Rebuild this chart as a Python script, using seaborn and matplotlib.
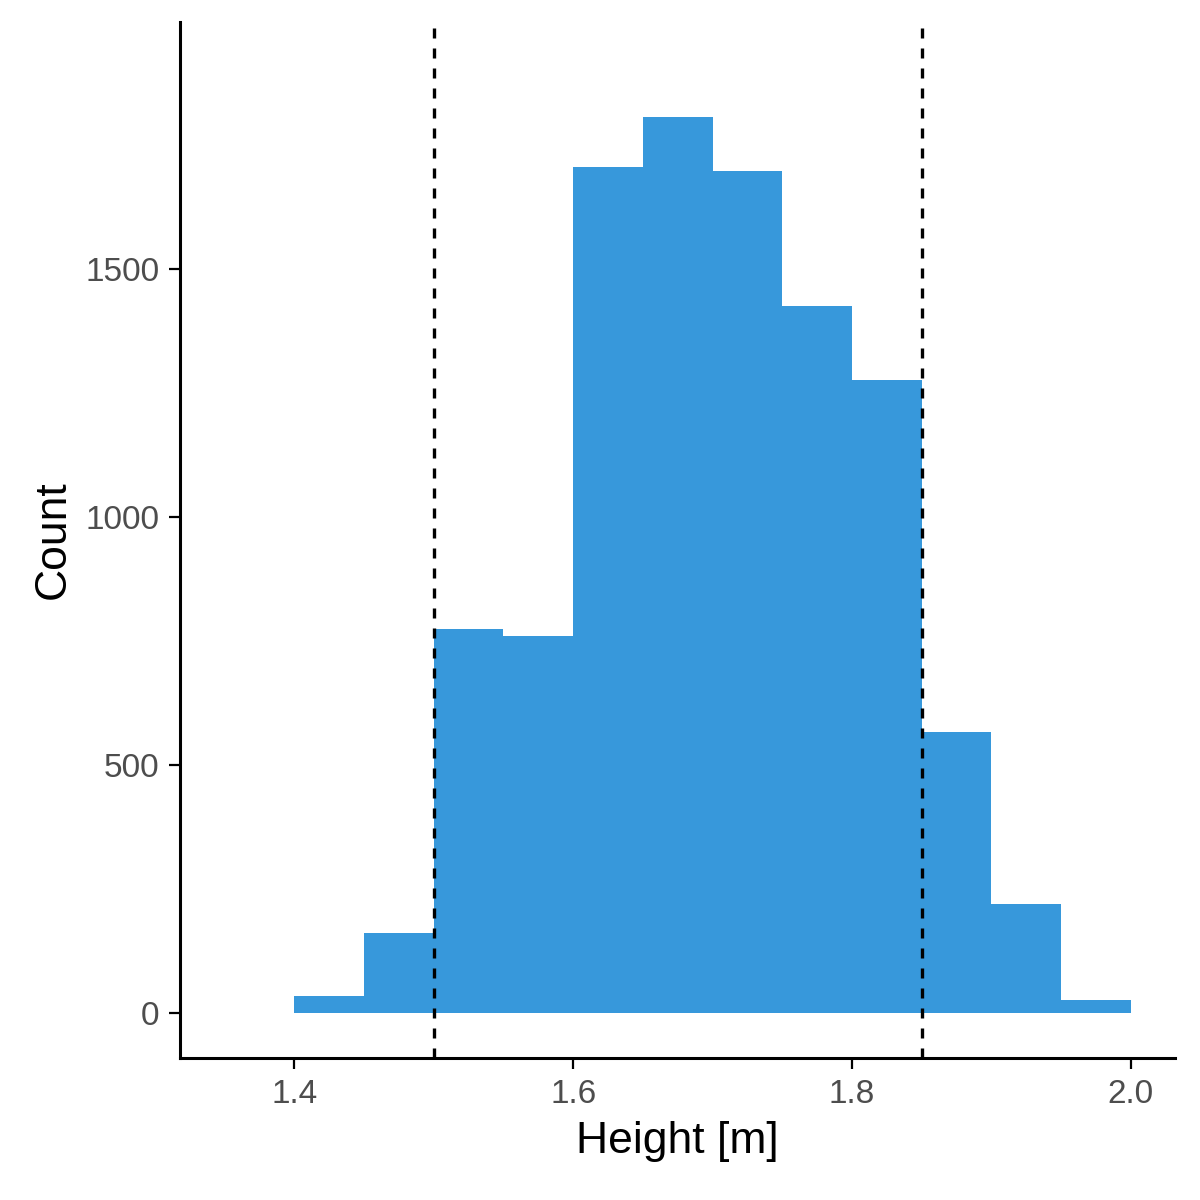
import matplotlib
matplotlib.use("Agg")
import matplotlib.pyplot as plt
import numpy as np
import pandas as pd
import seaborn as sns

bin_left = [1.40, 1.45, 1.50, 1.55, 1.60, 1.65, 1.70, 1.75, 1.80, 1.85, 1.90, 1.95]
counts = [34, 161, 774, 760, 1706, 1806, 1696, 1425, 1276, 567, 220, 26]
cutoffs = [1.5, 1.85]
bin_width = 0.05

df = pd.DataFrame({"height": np.array(bin_left) + bin_width / 2, "count": counts})

plt.rcParams["font.family"] = "Liberation Sans"
fig = plt.figure(figsize=(6, 6), dpi=200)
ax = fig.add_axes([0.15, 0.118, 0.829, 0.864])

sns.histplot(data=df, x="height", weights="count", binwidth=bin_width,
             binrange=(bin_left[0], bin_left[-1] + bin_width), ax=ax,
             color="#3798db", alpha=1, edgecolor="none", linewidth=0)
for c in cutoffs:
    ax.axvline(c, color="black", linestyle=(0, (3, 3)), linewidth=1.2)

ax.set_xlim(1.318, 2.0315)
ax.set_ylim(-91, 1998)
ax.set_xticks([1.4, 1.6, 1.8, 2.0])
ax.set_xticklabels(["1.4", "1.6", "1.8", "2.0"])
ax.set_yticks([0, 500, 1000, 1500])
ax.set_xlabel("Height [m]", fontsize=16)
ax.set_ylabel("Count", fontsize=16)
ax.tick_params(labelsize=12, labelcolor="#4d4d4d", direction="out", length=4)
sns.despine(ax=ax)
for s in ["left", "bottom"]:
    ax.spines[s].set_linewidth(1.1)

fig.savefig("out.png", dpi=200)
